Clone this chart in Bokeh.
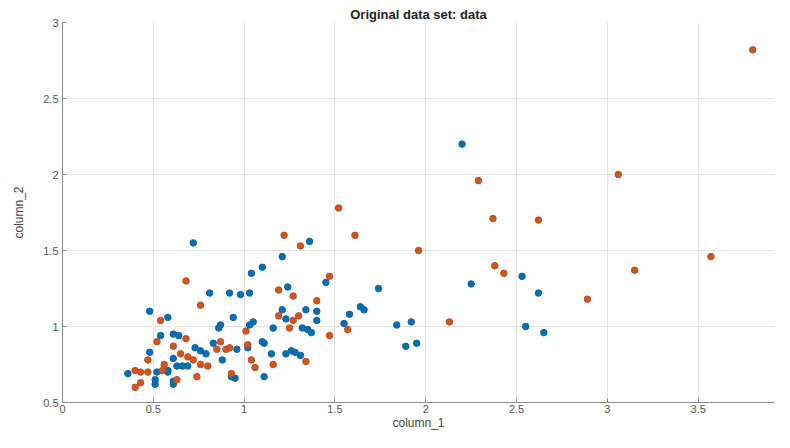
from bokeh.plotting import figure
from bokeh.models import Range1d, FixedTicker, ColumnDataSource
from bokeh.embed import file_html
from bokeh.resources import INLINE

# ---- data ----
blue_x = [2.20, 2.25, 2.53, 2.62, 2.55, 2.65, 1.74, 1.64, 1.66, 1.58, 1.55, 1.84, 1.92, 1.89, 1.95,
          1.36, 1.21, 1.10, 1.04, 1.45, 1.24, 1.21, 1.34, 1.40, 1.23, 1.40, 1.16, 1.32, 1.35, 1.37,
          1.11, 1.15, 1.23, 1.26, 1.28, 1.31, 1.11,
          0.72, 0.81, 0.92, 0.98, 1.03, 0.58, 0.94, 0.87, 0.86, 1.05, 1.03, 0.61, 0.64, 0.54,
          0.83, 0.73, 0.76, 0.79, 0.96, 1.02, 1.10, 0.61, 0.88, 0.63, 0.66, 0.69, 0.58, 0.95,
          0.61, 0.48, 0.48, 0.36, 0.52, 0.58, 0.51, 0.51, 0.61, 0.93]
blue_y = [2.20, 1.28, 1.33, 1.22, 1.00, 0.96, 1.25, 1.13, 1.11, 1.08, 1.02, 1.01, 1.03, 0.87, 0.89,
          1.56, 1.46, 1.39, 1.35, 1.29, 1.26, 1.11, 1.11, 1.10, 1.05, 1.04, 0.99, 0.99, 0.98, 0.96,
          0.89, 0.82, 0.82, 0.84, 0.83, 0.81, 0.67,
          1.55, 1.22, 1.22, 1.21, 1.22, 1.06, 1.06, 1.01, 0.99, 1.03, 1.01, 0.95, 0.94, 0.94,
          0.89, 0.86, 0.84, 0.82, 0.85, 0.86, 0.90, 0.79, 0.78, 0.74, 0.74, 0.74, 0.71, 0.66,
          0.62, 1.10, 0.83, 0.69, 0.70, 0.70, 0.65, 0.62, 0.64, 0.67]

orange_x = [3.80, 3.06, 3.57, 3.15, 2.29, 2.37, 2.62, 1.52, 1.61, 1.96, 2.38, 2.43, 2.89, 2.13, 1.57,
            1.22, 1.31, 1.47, 1.19, 1.27, 1.40, 1.19, 1.30, 1.27, 1.25, 1.47, 1.34, 1.16,
            0.68, 0.76, 0.54, 1.01, 0.68, 0.87, 0.61, 0.85, 0.90, 0.92, 1.02, 0.65, 0.69, 0.72,
            0.76, 0.80, 1.04, 1.06, 0.56, 0.74, 0.93, 0.63, 0.52, 0.47, 0.40, 0.43, 0.47, 0.55,
            0.43, 0.40]
orange_y = [2.82, 2.00, 1.46, 1.37, 1.96, 1.71, 1.70, 1.78, 1.60, 1.50, 1.40, 1.35, 1.18, 1.03, 0.98,
            1.60, 1.53, 1.33, 1.24, 1.20, 1.17, 1.07, 1.07, 1.04, 0.99, 0.94, 0.77, 0.75,
            1.30, 1.14, 1.04, 0.97, 0.92, 0.90, 0.87, 0.85, 0.85, 0.86, 0.88, 0.82, 0.80, 0.78,
            0.75, 0.74, 0.78, 0.73, 0.75, 0.67, 0.69, 0.65, 0.90, 0.78, 0.71, 0.70, 0.70, 0.71,
            0.63, 0.60]

x_ticks = [0, 0.5, 1, 1.5, 2, 2.5, 3, 3.5]
x_tick_labels = ["0", "0.5", "1", "1.5", "2", "2.5", "3", "3.5"]
y_ticks = [0.5, 1, 1.5, 2, 2.5, 3]
y_tick_labels = ["0.5", "1", "1.5", "2", "2.5", "3"]

title_text = "Original data set: data"
x_label = "column_1"
y_label = "column_2"

# ---- figure ----
FONT = "Liberation Sans"
p = figure(width=774, height=432, output_backend="svg", toolbar_location=None,
           x_range=Range1d(0, 3.92), y_range=Range1d(0.5, 3.0),
           min_border_left=62, min_border_right=0, min_border_top=22, min_border_bottom=20)

p.title.text = title_text
p.title.align = "center"
p.title.text_font = FONT
p.title.text_font_size = "13px"
p.title.text_font_style = "bold"
p.title.text_color = "#222222"
p.title.standoff = 1
p.title.offset = 0

p.outline_line_color = None
p.background_fill_color = "white"
p.border_fill_color = "white"

blue_src = ColumnDataSource(dict(x=blue_x, y=blue_y))
orange_src = ColumnDataSource(dict(x=orange_x, y=orange_y))
p.scatter("x", "y", source=blue_src, size=6.5, fill_color="#0072BD", line_color="#1a5e92")
p.scatter("x", "y", source=orange_src, size=6.5, fill_color="#D95319", line_color="#b0502a")

for ax, ticks, labels in ((p.xaxis, x_ticks, x_tick_labels), (p.yaxis, y_ticks, y_tick_labels)):
    ax.ticker = FixedTicker(ticks=ticks)
    ax.major_label_overrides = {t: l for t, l in zip(ticks, labels)}
    ax.minor_tick_line_color = None
    ax.major_tick_in = 4
    ax.major_tick_out = 0
    ax.axis_line_color = "#8a8a8a"
    ax.major_tick_line_color = "#8a8a8a"
    ax.major_label_text_font = FONT
    ax.major_label_text_font_size = "11px"
    ax.major_label_text_color = "#555555"
    ax.axis_label_text_font = FONT
    ax.axis_label_text_font_size = "12px"
    ax.axis_label_text_font_style = "normal"
    ax.axis_label_text_color = "#444444"
    ax.major_label_standoff = 2
    ax.axis_label_standoff = 0

p.xaxis.axis_label = x_label
p.yaxis.axis_label = y_label
p.yaxis.axis_label_standoff = 14
p.yaxis.major_label_standoff = 4

p.grid.grid_line_color = "#e4e4e4"
p.grid.grid_line_width = 1
p.xgrid.ticker = FixedTicker(ticks=x_ticks)
p.ygrid.ticker = FixedTicker(ticks=y_ticks)

open("out.html", "w").write(file_html(p, INLINE))
